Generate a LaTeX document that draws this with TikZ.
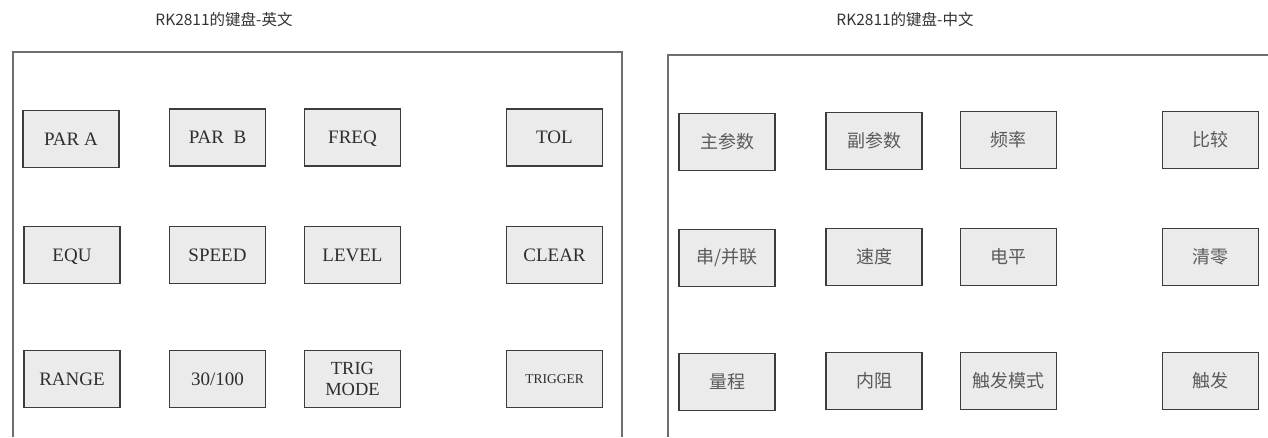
\documentclass[tikz,border=0pt]{standalone}
\usepackage{fontspec}
\setmainfont{Liberation Serif}
\newfontfamily\cjk{Noto Sans CJK SC}
\definecolor{keyfill}{HTML}{EBEBEB}
\definecolor{keyline}{HTML}{3C3C3C}
\definecolor{framecol}{HTML}{6E6E6E}
\definecolor{entext}{HTML}{2E2E2E}
\definecolor{zhtext}{HTML}{5A5A5A}
\begin{document}
\begin{tikzpicture}[x=1pt,y=-1pt,
  keybox/.style={draw=keyline,fill=keyfill,line width=1.4pt,minimum width=96pt,minimum height=57pt,inner sep=0pt,align=center},
  enkey/.style={keybox,text=entext,font=\fontsize{19}{20}\selectfont,text height=12.6pt,text depth=0pt},
  enkeytwo/.style={keybox,text=entext,font=\fontsize{18.5}{21}\selectfont},
  zhkey/.style={keybox,text=zhtext,font=\cjk\fontsize{18}{20}\selectfont},
  frameline/.style={draw=framecol,line width=1.4pt},
  titletext/.style={font=\cjk\fontsize{15.5}{17}\selectfont,text=black!80}]
\useasboundingbox (0,0) rectangle (1268,437);
% titles
\node[titletext] (t1) at (224,20) {RK2811的键盘-英文};
\node[titletext] (t2) at (905,20) {RK2811的键盘-中文};
% frames
\coordinate (fa) at (13,437);
\coordinate (fb) at (13,52);
\coordinate (fc) at (622,52);
\coordinate (fd) at (622,437);
\draw[frameline] (fa) -- (fb) -- (fc) -- (fd);
\coordinate (ga) at (668,437);
\coordinate (gb) at (668,55);
\coordinate (gc) at (1268,55);
\draw[frameline] (ga) -- (gb) -- (gc);
% English keys
\node[enkey] (parA) at (71,139) {PAR A};
\node[enkey] (parB) at (217.5,137.5) {PAR\ \ B};
\node[enkey] (freq) at (352.5,137.5) {FREQ};
\node[enkey] (tol) at (554.5,137.5) {TOL};
\node[enkey] (equ) at (72,255) {EQU};
\node[enkey] (speed) at (217.5,255) {SPEED};
\node[enkey] (level) at (352.5,255) {LEVEL};
\node[enkey] (clear) at (554.5,255) {CLEAR};
\node[enkey] (range) at (72,379) {RANGE};
\node[enkey] (sel) at (217.5,379) {30/100};
\node[enkeytwo] (trig) at (352.5,379) {TRIG\\MODE};
\node[enkey,font=\fontsize{13.5}{15}\selectfont,text height=9pt] (trigger) at (554.5,379) {TRIGGER};
% Chinese keys
\node[zhkey] (zhu) at (727,142) {主参数};
\node[zhkey] (fu) at (874,141) {副参数};
\node[zhkey] (pin) at (1008.5,140) {频率};
\node[zhkey] (bi) at (1210.5,140) {比较};
\node[zhkey] (chuan) at (727,258) {串/并联};
\node[zhkey] (su) at (874,257) {速度};
\node[zhkey] (dian) at (1008.5,257) {电平};
\node[zhkey] (qing) at (1210.5,257) {清零};
\node[zhkey] (liang) at (727,382) {量程};
\node[zhkey] (nei) at (874,381) {内阻};
\node[zhkey] (chumo) at (1008.5,381) {触发模式};
\node[zhkey] (chu) at (1210.5,381) {触发};
\end{tikzpicture}
\end{document}
